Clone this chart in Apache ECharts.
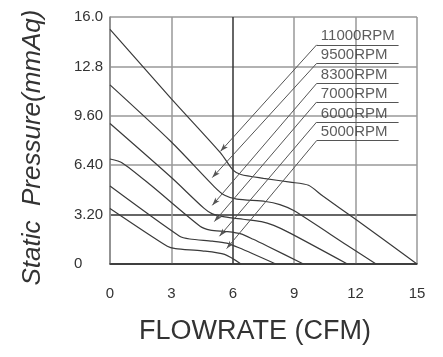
<!DOCTYPE html>
<html>
<head>
<meta charset="utf-8">
<script src="https://cdn.jsdelivr.net/npm/echarts@6/dist/echarts.min.js"></script>
<style>html,body{margin:0;padding:0;background:#fff;}#c{width:443px;height:357px;}</style>
</head>
<body>
<div id="c"></div>
<script>
// ---- data ----
const xTicks = [0, 3, 6, 9, 12, 15];
const yTickLabels = ['0', '3.20', '6.40', '9.60', '12.8', '16.0'];
const rpmNames = ['11000RPM', '9500RPM', '8300RPM', '7000RPM', '6000RPM', '5000RPM'];

const curve11000 = [[0,15.2],[3,10.7],[5.4,7.2],[6.0,6.1],[6.4,5.8],[7.5,5.55],[8.8,5.3],[9.7,5.1],[10.4,4.4],[12,2.9],[15,0]];
const curve9500  = [[0,11.6],[3,7.9],[5.1,5.0],[5.6,4.45],[6.2,4.2],[7.6,4.05],[8.3,3.85],[9.0,3.45],[11.6,1.2],[13,0]];
const curve8300  = [[0,9.1],[3,5.6],[4.6,3.6],[5.0,3.25],[5.6,3.05],[6.5,2.9],[7.4,2.75],[8.0,2.5],[8.8,2.0],[11.6,0]];
const curve7000  = [[0,6.8],[0.6,6.55],[2,5.1],[4.4,2.45],[4.9,2.2],[5.7,2.1],[6.4,1.95],[7,1.6],[7.7,1.15],[9.45,0]];
const curve6000  = [[0,5.05],[3.4,1.8],[3.9,1.62],[5.0,1.48],[5.7,1.35],[6.3,1.05],[8.1,0]];
const curve5000  = [[0,3.6],[2.8,1.15],[3.2,1.0],[4.5,0.85],[5.6,0.62],[6.4,0]];
const curves = [curve11000, curve9500, curve8300, curve7000, curve6000, curve5000];

// annotation anchors (data units)
const arrowX = [5.4, 5.0, 5.0, 5.1, 5.35, 5.7];
const arrowY = [7.3, 5.6, 3.8, 2.75, 1.8, 1.0];
const underlineY = [14.2, 13.0, 11.7, 10.5, 9.2, 8.0];
const underlineX0 = 10.1;
const underlineX1 = 14.1;
const labelX = 10.3;
const labelDY = 0.55;

// ---- chart ----
const font = 'Liberation Sans, Arial, sans-serif';
const chart = echarts.init(document.getElementById('c'), null, {renderer: 'canvas'});

const series = curves.map((c, i) => ({
  name: rpmNames[i],
  type: 'line',
  data: c,
  smooth: 0.25,
  symbol: 'none',
  lineStyle: {color: '#3a3a3a', width: 1.2},
  z: 3,
  silent: true
}));

const mlData = [];
rpmNames.forEach((n, i) => {
  mlData.push([
    {coord: [arrowX[i], arrowY[i]], symbol: 'arrow', symbolSize: [4, 8]},
    {coord: [underlineX0, underlineY[i]], symbol: 'none'}
  ]);
  mlData.push([
    {coord: [underlineX0, underlineY[i]], symbol: 'none'},
    {coord: [underlineX1, underlineY[i]], symbol: 'none'}
  ]);
});

series.push({
  type: 'line',
  data: [],
  silent: true,
  markLine: {
    silent: true,
    animation: false,
    symbol: ['none', 'none'],
    label: {show: false},
    lineStyle: {color: '#555', width: 1, type: 'solid'},
    emphasis: {disabled: true},
    data: mlData
  }
});

series.push({
  type: 'scatter',
  symbolSize: 0,
  silent: true,
  data: rpmNames.map((n, i) => [labelX, underlineY[i] + labelDY, n]),
  label: {
    show: true,
    position: 'right',
    distance: 0,
    formatter: p => p.value[2],
    color: '#333',
    fontSize: 15,
    fontFamily: font
  }
});

chart.setOption({
  animation: false,
  backgroundColor: '#fff',
  grid: {left: 110, right: 26, top: 17, bottom: 93},
  xAxis: {
    type: 'value',
    min: xTicks[0],
    max: xTicks[xTicks.length - 1],
    interval: 3,
    name: 'FLOWRATE (CFM)',
    nameLocation: 'middle',
    nameGap: 54,
    nameTextStyle: {fontSize: 27, color: '#333', fontFamily: font, padding: [0, 17, 0, 0]},
    axisLine: {show: true, lineStyle: {color: '#333', width: 1.5}},
    axisTick: {show: false},
    axisLabel: {margin: 22, color: '#333', fontSize: 15, fontFamily: font},
    splitLine: {show: true, lineStyle: {color: ['#999', '#999', '#333', '#999', '#999', '#999'], width: 1.5}}
  },
  yAxis: {
    type: 'value',
    min: 0,
    max: 16,
    interval: 3.2,
    name: 'Static  Pressure(mmAq)',
    nameLocation: 'middle',
    nameGap: 64,
    nameTextStyle: {fontSize: 26, color: '#333', fontStyle: 'italic', fontFamily: font, padding: [0, 14, 0, 0]},
    axisLine: {show: true, lineStyle: {color: '#888', width: 1.5}},
    axisTick: {show: false},
    axisLabel: {
      margin: 36,
      align: 'left',
      color: '#333',
      fontSize: 15,
      fontFamily: font,
      formatter: v => yTickLabels[Math.round(v / 3.2)]
    },
    splitLine: {show: true, lineStyle: {color: ['#333', '#333', '#999', '#999', '#999', '#999'], width: 1.5}}
  },
  series: series
});
</script>
</body>
</html>
